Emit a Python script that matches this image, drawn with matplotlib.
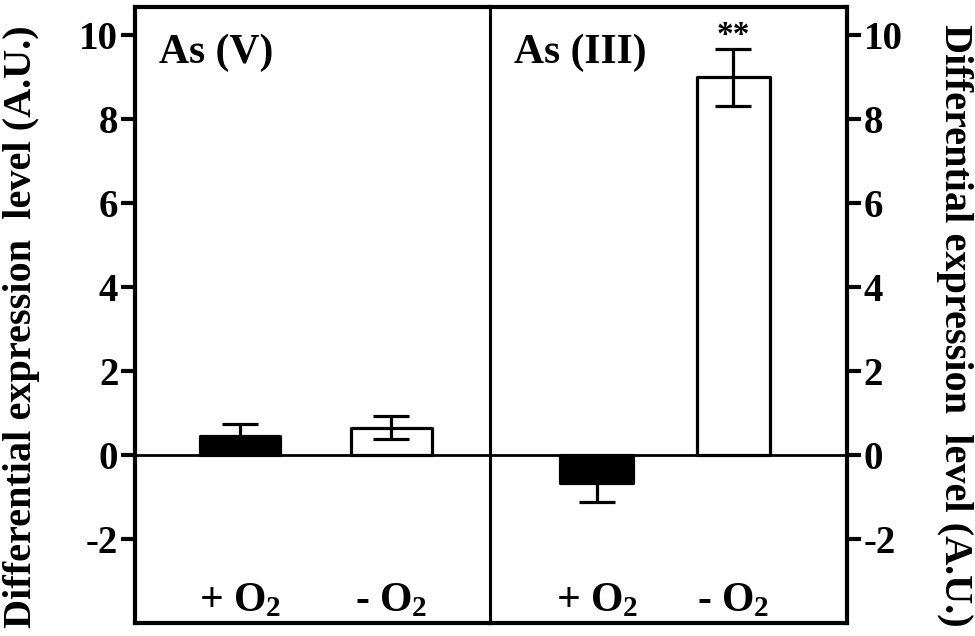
import matplotlib.pyplot as plt

plt.rcParams['font.family'] = ['Liberation Serif', 'DejaVu Serif']
plt.rcParams['font.weight'] = 'bold'
plt.rcParams['mathtext.fontset'] = 'custom'
plt.rcParams['mathtext.rm'] = 'Liberation Serif:bold'
plt.rcParams['mathtext.it'] = 'Liberation Serif:bold'
plt.rcParams['mathtext.bf'] = 'Liberation Serif:bold'
plt.rcParams['axes.unicode_minus'] = False

# data
panels = ['As (V)', 'As (III)']
conditions = [r'+ O$_2$', r'- O$_2$']
as5_vals = [0.45, 0.65]
as5_err = [0.30, 0.27]
as3_vals = [-0.67, 9.0]
as3_err = [0.45, 0.68]
yticks = [-2, 0, 2, 4, 6, 8, 10]

fig = plt.figure(figsize=(9.75, 6.36), dpi=100)
left, mid, right = 0.1385, 0.5026, 0.8687
bot, top = 0.0204, 0.989
ax1 = fig.add_axes([left, bot, mid - left, top - bot])
ax2 = fig.add_axes([mid, bot, right - mid, top - bot])
ax2.patch.set_alpha(0)

x = [0, 1]
fills = ['black', 'white']
lw = 2.3

for ax, name, vals, errs in [(ax1, panels[0], as5_vals, as5_err),
                             (ax2, panels[1], as3_vals, as3_err)]:
    ax.axhline(0, color='black', lw=2, zorder=1)
    ax.bar(x, vals, width=0.53, color=fills, edgecolor='black',
           linewidth=lw, joinstyle='round', zorder=2)
    ax.errorbar(x, vals, yerr=errs, fmt='none', ecolor='black',
                elinewidth=lw, capsize=13, capthick=lw, zorder=3)
    ax.set_ylim(-4, 10.67)
    ax.set_yticks(yticks)
    ax.set_xticks([])
    ax.text(0.068, 0.925, name, transform=ax.transAxes, fontsize=30,
            fontweight='bold', va='center', ha='left')
    for xi, lab in zip(x, conditions):
        ax.text(xi, -3.72, lab, fontsize=30, fontweight='bold',
                ha='center', va='baseline')
    for s in ax.spines.values():
        s.set_linewidth(3)

ax1.set_xlim(-0.69, 1.65)
ax2.set_xlim(-0.78, 1.83)

ax1.spines['right'].set_linewidth(2.2)
ax2.spines['left'].set_visible(False)

ax1.tick_params(axis='y', direction='out', length=10, width=3, labelsize=28, pad=2)
ax2.yaxis.tick_right()
ax2.tick_params(axis='y', direction='out', length=10, width=3, labelsize=28, pad=2)

for lbl in ax1.get_yticklabels() + ax2.get_yticklabels():
    lbl.set_fontweight('bold')

ylab = 'Differential expression  level (A.U.)'
fig.text(22 / 975, 0.487, ylab, fontsize=29, fontweight='bold',
         rotation=90, ha='center', va='center')
fig.text(955 / 975, 0.489, ylab, fontsize=29, fontweight='bold',
         rotation=-90, ha='center', va='center')

# significance mark
ax2.text(1, 9.69 + 0.3, '**', fontsize=24, fontweight='bold',
         ha='center', va='center')

fig.savefig('out.png', dpi=100)
